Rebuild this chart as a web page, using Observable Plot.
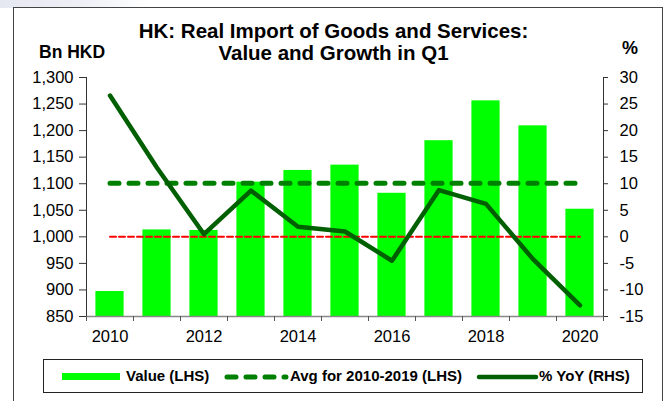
<!DOCTYPE html>
<html>
<head>
<meta charset="utf-8">
<script src="https://cdn.jsdelivr.net/npm/d3@7"></script>
<script src="https://cdn.jsdelivr.net/npm/@observablehq/plot@0.6"></script>
<style>
  html, body { margin: 0; padding: 0; background: #fff; }
  #wrap { position: relative; width: 667px; height: 401px; overflow: hidden; background: #fff;
          font-family: "Liberation Sans", Arial, Helvetica, sans-serif; color: #000; }
  #blot { position: absolute; left: 0; top: 0; width: 150px; height: 8px;
          background: linear-gradient(to right, #e6e8f1 0%, #eef0f6 55%, rgba(255,255,255,0) 100%); }
  #frame { position: absolute; left: 13px; top: 7px; width: 650px; height: 420px;
           border: 1px solid #444; box-sizing: border-box; }
  .t { position: absolute; white-space: nowrap; font-weight: bold; }
  #title { left: 0; width: 667px; top: 20px; text-align: center; font-size: 20.5px; line-height: 22px; }
  #lunit { left: 39px; top: 44px; font-size: 17.5px; line-height: 17.5px; }
  #runit { left: 622px; top: 39px; font-size: 18px; line-height: 18px; }
  #chart { position: absolute; left: 0; top: 64px; }
  #legend { position: absolute; left: 43px; top: 359px; width: 600px; height: 34px;
            border: 1px solid #222; box-sizing: border-box; background: #fff; }
  #legend .lt { position: absolute; top: 8px; font-size: 15px; line-height: 15px; font-weight: bold; white-space: nowrap; }
  #legend svg { position: absolute; overflow: visible; }
</style>
</head>
<body>
<div id="wrap">
  <div id="blot"></div>
  <div id="frame"></div>
  <div id="title" class="t">HK: Real Import of Goods and Services:<br>Value and Growth in Q1</div>
  <div id="lunit" class="t">Bn HKD</div>
  <div id="runit" class="t">%</div>
  <div id="chart"></div>
  <div id="legend">
    <svg style="left:18px;top:13px" width="58" height="7"><rect x="0" y="0" width="58" height="7" fill="#00ff00"></rect></svg>
    <div class="lt" style="left:82px">Value (LHS)</div>
    <svg style="left:180px;top:14px" width="62" height="6"><line x1="3" y1="3" x2="62" y2="3" stroke="#008000" stroke-width="5" stroke-dasharray="9,10" stroke-linecap="round"></line></svg>
    <div class="lt" style="left:246px">Avg for 2010-2019 (LHS)</div>
    <svg style="left:433px;top:14px" width="61" height="6"><line x1="2" y1="3" x2="59" y2="3" stroke="#005f00" stroke-width="4.5" stroke-linecap="round"></line></svg>
    <div class="lt" style="left:495px">% YoY (RHS)</div>
  </div>
</div>
<script>
// ---- data ----
const years = [2010, 2011, 2012, 2013, 2014, 2015, 2016, 2017, 2018, 2019, 2020];
const importValue = [897, 1013, 1012, 1103, 1125, 1135, 1082, 1181, 1256, 1209, 1052]; // Bn HKD (LHS)
const yoyGrowth = [26.6, 13.0, 0.5, 8.7, 1.9, 1.0, -4.5, 8.8, 6.2, -4.2, -12.9];        // % (RHS)
const avg2010to2019 = 1101;   // Bn HKD (LHS)
const zeroGrowth = 0;         // % (RHS) reference line
const leftTicks = [850, 900, 950, 1000, 1050, 1100, 1150, 1200, 1250, 1300];
const rightTicks = [-15, -10, -5, 0, 5, 10, 15, 20, 25, 30];
const xLabelYears = [2010, 2012, 2014, 2016, 2018, 2020];

// ---- build ----
const rows = years.map((year, i) => ({
  year, value: importValue[i], yoy: yoyGrowth[i], avg: avg2010to2019, zero: zeroGrowth
}));
const yDomain = [leftTicks[0], leftTicks[leftTicks.length - 1]];
const toLeft = d3.scaleLinear().domain([rightTicks[0], rightTicks[rightTicks.length - 1]]).range(yDomain);
const xDomain = [years[0] - 0.5, years[years.length - 1] + 0.5];
const boundaries = d3.range(xDomain[0], xDomain[1] + 0.01, 1);
const half = 0.3;

const chart = Plot.plot({
  width: 667,
  height: 290,
  marginLeft: 86,
  marginRight: 64,
  marginTop: 13,
  marginBottom: 38,
  x: { type: "linear", domain: xDomain },
  y: { domain: yDomain },
  style: { fontFamily: '"Liberation Sans", Arial, sans-serif', fontSize: "16.5px", color: "#000", background: "transparent", overflow: "visible" },
  marks: [
    Plot.rectY(rows, { x1: d => d.year - half, x2: d => d.year + half, y1: yDomain[0], y2: "value", fill: "#00ff00" }),
    Plot.lineY(rows, { x: "year", y: d => toLeft(d.zero), stroke: "#ff0000", strokeWidth: 2, strokeDasharray: "6,3" }),
    Plot.lineY(rows, { x: "year", y: "avg", stroke: "#008000", strokeWidth: 5, strokeDasharray: "9,10", strokeLinecap: "round" }),
    Plot.lineY(rows, { x: "year", y: d => toLeft(d.yoy), stroke: "#005f00", strokeWidth: 4.5, strokeLinejoin: "round", strokeLinecap: "round" }),
    Plot.ruleY([yDomain[0]], { stroke: "#888", strokeWidth: 1.5 }),
    Plot.ruleX([xDomain[0]], { stroke: "#333" }),
    Plot.ruleX([xDomain[1]], { stroke: "#333" }),
    Plot.axisY(leftTicks, { anchor: "left", tickSize: 7, tickPadding: 6, tickFormat: d3.format(","), label: null, stroke: "#333" }),
    Plot.axisY(rightTicks.map(v => toLeft(v)), { anchor: "right", tickSize: 4, tickPadding: 12, tickFormat: d => String(Math.round(toLeft.invert(d))), label: null, stroke: "#333" }),
    Plot.axisX(boundaries, { anchor: "bottom", tickSize: 5, tickFormat: () => "", label: null, stroke: "#555" }),
    Plot.axisX(xLabelYears, { anchor: "bottom", tickSize: 0, tickPadding: 14, tickFormat: d => String(d), label: null })
  ]
});
document.getElementById("chart").appendChild(chart);
</script>
</body>
</html>
